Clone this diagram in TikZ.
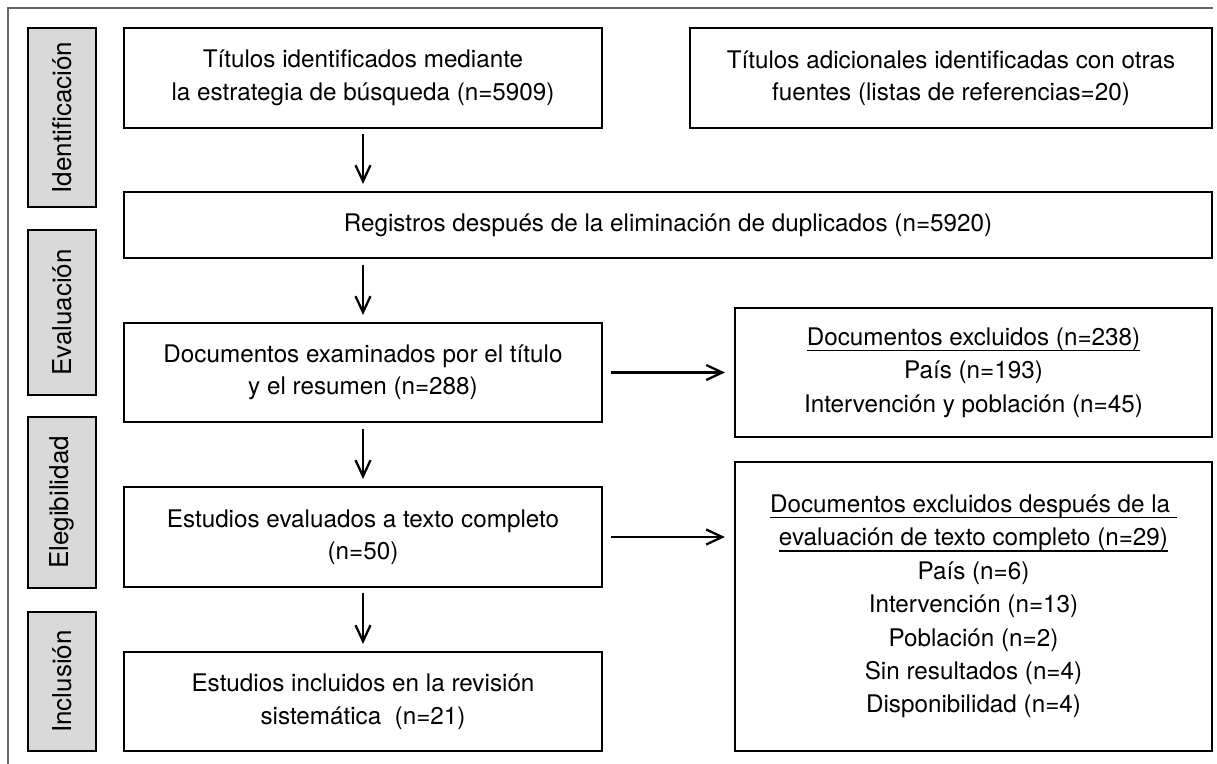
\documentclass[tikz,border=0pt]{standalone}
\usepackage{fontspec}
\setmainfont{TeX Gyre Heros}
\usetikzlibrary{arrows.meta}
\newcommand\ulin[1]{\setbox0\hbox{#1}\rlap{\rule[-0.24em]{\wd0}{0.055em}}\box0}

\begin{document}
\begin{tikzpicture}[x=0.02cm,y=-0.02cm,
    every node/.style={font=\fontsize{13.8}{18.5}\selectfont},
    box/.style={draw,line width=1.3pt,align=center,inner sep=0pt},
    list/.style={box,font=\fontsize{13.8}{19}\selectfont},
    phase/.style={draw,line width=1.3pt,fill=black!15,rotate=90,inner sep=0pt,minimum height=1.36cm,
        font=\fontsize{14.8}{18}\selectfont},
    arr/.style={line width=1.3pt,-{Straight Barb[length=0.32cm,width=0.3cm]}}]
    \useasboundingbox (0,0) rectangle (1217,764);
    % frame
    \draw[black!60,line width=0.8pt] (8,770) -- (8,8) -- (1213,8);
    % phases
    \node[phase,minimum width=3.58cm] (pid) at (62,117.5) {Identificación};
    \node[phase,minimum width=3.3cm] (pev) at (62,312.5) {Evaluación};
    \node[phase,minimum width=3.42cm] (pel) at (62,502.5) {Elegibilidad};
    \node[phase,minimum width=2.78cm] (pin) at (62,681.5) {Inclusión};
    % boxes
    \node[box,minimum width=9.56cm,minimum height=2cm] (ident) at (363,78)
        {Títulos identificados mediante\\la estrategia de búsqueda (n=5909)};
    \node[box,minimum width=10.44cm,minimum height=2cm] (otras) at (951,78)
        {Títulos adicionales identificadas con otras\\fuentes (listas de referencias=20)};
    \node[box,minimum width=21.76cm,minimum height=1.32cm] (reg) at (668,225)
        {Registros después de la eliminación de duplicados (n=5920)};
    \node[box,minimum width=9.56cm,minimum height=1.98cm] (exam) at (363,372.5)
        {Documentos examinados por el título\\y el resumen (n=288)};
    \node[box,minimum width=9.56cm,minimum height=2cm] (eval) at (363,537)
        {Estudios evaluados a texto completo\\(n=50)};
    \node[box,minimum width=9.56cm,minimum height=1.98cm] (incl) at (363,701.5)
        {Estudios incluidos en la revisión\\sistemática\ \ (n=21)};
    \node[list,minimum width=9.54cm,minimum height=2.58cm] (excl) at (973.5,372.5)
        {\ulin{Documentos excluidos (n=238)}\\País (n=193)\\Intervención y población (n=45)};
    \node[list,minimum width=9.54cm,minimum height=5.78cm] (exclt) at (973.5,606.5)
        {\ulin{Documentos excluidos después de la\ }\\\ulin{evaluación de texto completo (n=29)}\\País (n=6)\\Intervención (n=13)\\Población (n=2)\\Sin resultados (n=4)\\Disponibilidad (n=4)};
    % arrows
    \draw[arr,shorten <=0.1cm,shorten >=0.14cm] (ident.south) -- (ident.south |- reg.north);
    \draw[arr,shorten <=0.12cm,shorten >=0.14cm] (reg.south -| exam.north) -- (exam.north);
    \draw[arr,shorten <=0.12cm,shorten >=0.14cm] (exam.south) -- (eval.north);
    \draw[arr,shorten <=0.1cm,shorten >=0.14cm] (eval.south) -- (incl.north);
    \draw[arr,shorten <=0.16cm,shorten >=0.18cm] (exam.east) -- (excl.west);
    \draw[arr,shorten <=0.16cm,shorten >=0.18cm] (eval.east) -- (eval.east -| exclt.west);
\end{tikzpicture}
\end{document}
